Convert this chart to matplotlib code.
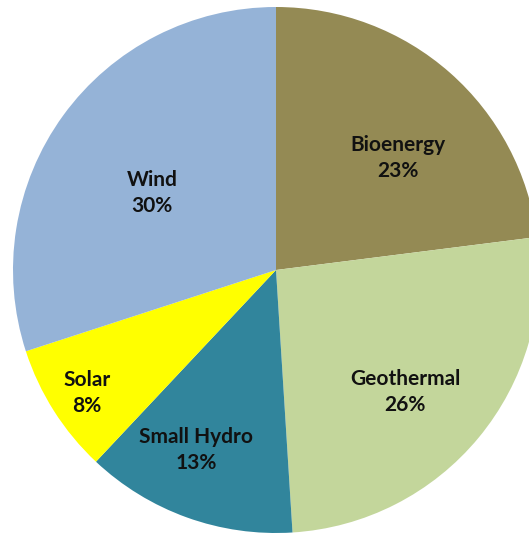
import numpy as np
import matplotlib
matplotlib.use('Agg')
import matplotlib.pyplot as plt

# share of renewable capacity
labels = ['Bioenergy', 'Geothermal', 'Small Hydro', 'Solar', 'Wind']
shares = [23, 26, 13, 8, 30]
colors = ['#948A54', '#C3D69B', '#31859C', '#FFFF00', '#95B3D7']
# label placement inside each wedge (radius fraction, angle in degrees)
label_r = [0.63, 0.675, 0.75, 0.857, 0.555]
label_ang = [42.6, -43.4, -114.0, -146.9, 148.2]

fig = plt.figure(figsize=(5.29, 5.33), dpi=100)
ax = fig.add_axes([0, 0, 1, 1])

wedges, _ = ax.pie(shares, colors=colors, startangle=90, counterclock=False,
                   radius=1.0, wedgeprops=dict(linewidth=0))

for name, val, r, a in zip(labels, shares, label_r, label_ang):
    t = np.deg2rad(a)
    ax.text(r * np.cos(t), r * np.sin(t), f'{name}\n{val}%',
            ha='center', va='center', fontsize=15, fontweight='bold',
            family='Lato', color='#111111', linespacing=1.35)

# pie centre at (276, 270) px from top-left, radius 263 px
R = 263.0
ax.set_aspect('auto')
ax.set_xlim(-276 / R, (529 - 276) / R)
ax.set_ylim(-(533 - 270) / R, 270 / R)
ax.axis('off')

fig.savefig('out.png', dpi=100, facecolor='white')
